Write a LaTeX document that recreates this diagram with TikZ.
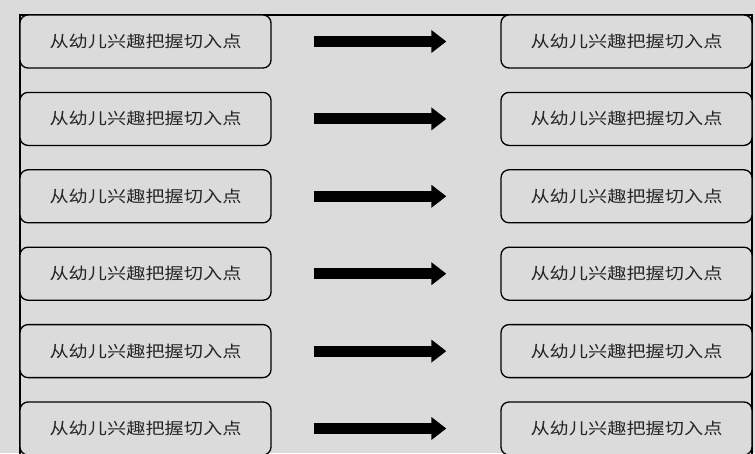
\documentclass[tikz,border=0pt]{standalone}
\usepackage{fontspec}
\newfontfamily\cjk{Noto Sans CJK SC}
\usetikzlibrary{arrows.meta}
\definecolor{bggray}{gray}{0.86}
\tikzset{
  stagebox/.style={draw=black, line width=1.3pt, rounded corners=8pt, fill=bggray,
    minimum width=251pt, minimum height=53pt, inner sep=0pt,
    font=\cjk\fontsize{16pt}{18pt}\selectfont, text=black!85},
  bigarrow/.style={line width=11pt, draw=black,
    -{Triangle[length=15pt,width=22pt]}, shorten <=42pt, shorten >=54pt},
}
\newcommand{\stagetext}{\scalebox{1.2}[1]{从幼儿兴趣把握切入点}}
\begin{document}
\begin{tikzpicture}[x=1pt,y=-1pt]
\useasboundingbox (0,0) rectangle (755,453);
\clip (0,0) rectangle (755,453);
\fill[bggray] (0,0) rectangle (755,453);
\draw[line width=1.2pt] (20,470) -- (20,15) -- (752,15) -- (752,470);
\foreach \k in {0,...,5}{
  \node[stagebox] (L\k) at (145.5,{41.5+77.4*\k}) {\stagetext};
  \node[stagebox] (R\k) at (626.5,{41.5+77.4*\k}) {\stagetext};
  \draw[bigarrow] (L\k.east) -- (R\k.west);
}
\end{tikzpicture}
\end{document}
